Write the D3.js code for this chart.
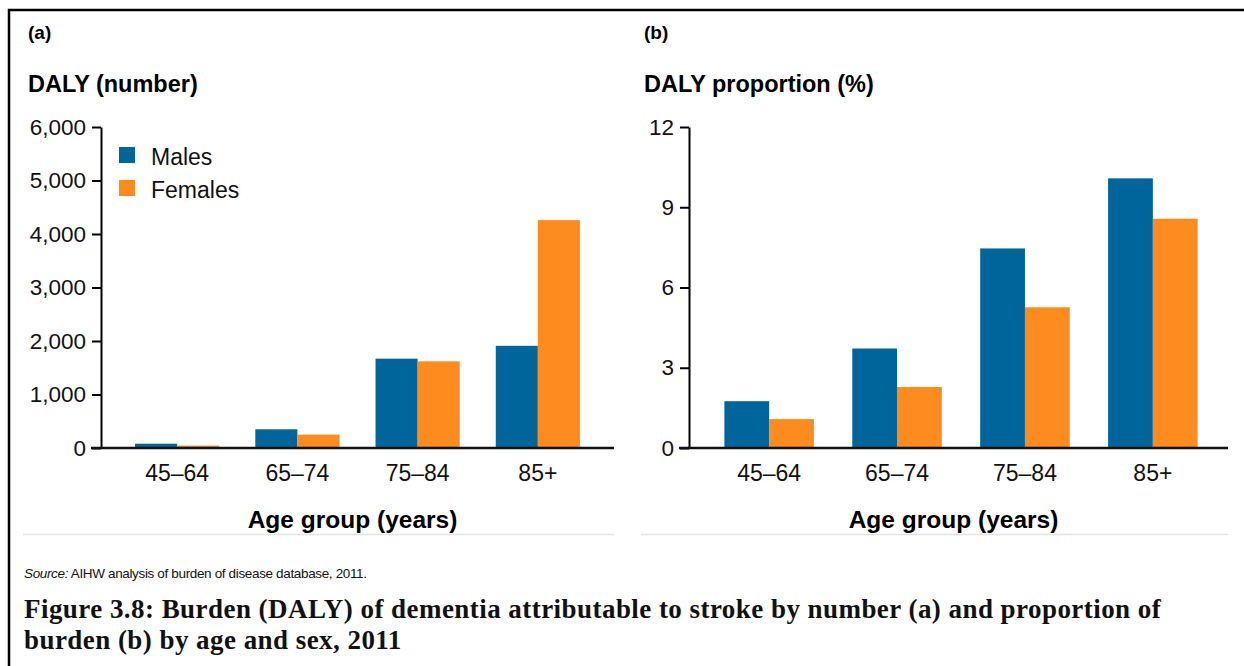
<!DOCTYPE html>
<html>
<head>
<meta charset="utf-8">
<script src="https://cdn.jsdelivr.net/npm/d3@7"></script>
<style>
    body { margin: 0; background: #fff; }
    svg { display: block; font-family: "Liberation Sans", Arial, sans-serif; }
</style>
</head>
<body>
<div id="chart"></div>
<script>
const ageGroups = ["45–64", "65–74", "75–84", "85+"];
const seriesNames = ["Males", "Females"];
const seriesColors = ["#00659b", "#fd8b1d"];

// panel (a): DALY number
const dalyMales = [80, 350, 1670, 1910];
const dalyFemales = [45, 250, 1620, 4260];
const dalyTicks = [0, 1000, 2000, 3000, 4000, 5000, 6000];

// panel (b): DALY proportion (%)
const propMales = [1.75, 3.72, 7.46, 10.08];
const propFemales = [1.08, 2.28, 5.26, 8.57];
const propTicks = [0, 3, 6, 9, 12];

const width = 1244, height = 666;

const svg = d3.select("#chart")
    .append("svg")
    .attr("width", width)
    .attr("height", height);

// outer frame (top + left only)
svg.append("path")
    .attr("d", "M9,666 V10 H1244")
    .attr("fill", "none")
    .attr("stroke", "#000")
    .attr("stroke-width", 2.5);

drawPanel({
    letter: "(a)",
    title: "DALY (number)",
    left: 28,
    axisX: 101,
    xRange: [99, 616],
    baseFrom: 91,
    baseTo: 614,
    ruleFrom: 23,
    ruleTo: 614,
    domain: [0, 6000],
    ticks: dalyTicks,
    format: d3.format(","),
    values: [dalyMales, dalyFemales],
    legend: true
});

drawPanel({
    letter: "(b)",
    title: "DALY proportion (%)",
    left: 644,
    axisX: 689,
    xRange: [686, 1236],
    baseFrom: 679,
    baseTo: 1228,
    ruleFrom: 641,
    ruleTo: 1228,
    domain: [0, 12],
    ticks: propTicks,
    format: d3.format("d"),
    values: [propMales, propFemales],
    legend: false
});

function drawPanel(p) {
    const g = svg.append("g");
    const top = 127, bottom = 448;

    const y = d3.scaleLinear().domain(p.domain).range([bottom, top]);
    const x0 = d3.scaleBand().domain(ageGroups).range(p.xRange).padding(0.3);
    const x1 = d3.scaleBand().domain(seriesNames).range([0, x0.bandwidth()]);

    g.append("text")
        .attr("x", p.left)
        .attr("y", 39)
        .attr("font-size", 19)
        .attr("font-weight", "bold")
        .text(p.letter);

    g.append("text")
        .attr("x", p.left)
        .attr("y", 92)
        .attr("font-size", 23.5)
        .attr("font-weight", "bold")
        .text(p.title);

    // bars
    const rows = ageGroups.map((a, i) => ({
        group: a,
        vals: seriesNames.map((s, j) => ({ name: s, color: seriesColors[j], v: p.values[j][i] }))
    }));

    g.selectAll("g.grp")
        .data(rows)
        .enter().append("g")
        .attr("class", "grp")
        .attr("transform", d => "translate(" + x0(d.group) + ",0)")
        .selectAll("rect")
        .data(d => d.vals)
        .enter().append("rect")
        .attr("x", d => x1(d.name))
        .attr("y", d => y(d.v))
        .attr("width", x1.bandwidth())
        .attr("height", d => bottom - y(d.v))
        .attr("fill", d => d.color);

    // y axis
    const yAxis = g.append("g")
        .attr("transform", "translate(" + p.axisX + ",0)")
        .call(d3.axisLeft(y).tickValues(p.ticks).tickFormat(p.format)
            .tickSize(9).tickSizeOuter(0).tickPadding(6));
    yAxis.select(".domain").attr("stroke-width", 2);
    yAxis.selectAll(".tick line").attr("stroke-width", 2);
    yAxis.selectAll(".tick text")
        .attr("font-size", 22.5)
        .attr("font-family", "Liberation Sans, Arial, sans-serif")
        .attr("fill", "#111");

    // baseline
    g.append("line")
        .attr("x1", p.baseFrom).attr("x2", p.baseTo)
        .attr("y1", bottom).attr("y2", bottom)
        .attr("stroke", "#111")
        .attr("stroke-width", 2.5);

    // category labels
    const xAxis = g.append("g")
        .attr("transform", "translate(0," + bottom + ")")
        .call(d3.axisBottom(x0).tickSize(0).tickPadding(17));
    xAxis.select(".domain").remove();
    xAxis.selectAll(".tick text")
        .attr("font-size", 23)
        .attr("font-family", "Liberation Sans, Arial, sans-serif")
        .attr("fill", "#111");

    g.append("text")
        .attr("x", (p.baseFrom + p.baseTo) / 2)
        .attr("y", 528)
        .attr("text-anchor", "middle")
        .attr("font-size", 24.5)
        .attr("font-weight", "bold")
        .text("Age group (years)");

    g.append("line")
        .attr("x1", p.ruleFrom).attr("x2", p.ruleTo)
        .attr("y1", 534.5).attr("y2", 534.5)
        .attr("stroke", "#e3e3e3")
        .attr("stroke-width", 1.5);

    if (p.legend) {
        const lg = g.selectAll("g.leg")
            .data(seriesNames)
            .enter().append("g")
            .attr("class", "leg")
            .attr("transform", (d, i) => "translate(119," + (147 + i * 33) + ")");
        lg.append("rect")
            .attr("width", 16).attr("height", 16)
            .attr("fill", (d, i) => seriesColors[i]);
        lg.append("text")
            .attr("x", 32).attr("y", 18)
            .attr("font-size", 23)
            .attr("fill", "#111")
            .text(d => d);
    }
}

// source note
const src = svg.append("text")
    .attr("x", 24)
    .attr("y", 578)
    .attr("font-size", 13.5)
    .attr("letter-spacing", -0.35)
    .attr("fill", "#111");
src.append("tspan").attr("font-style", "italic").text("Source:");
src.append("tspan").text(" AIHW analysis of burden of disease database, 2011.");

// caption
const caption = [
    "Figure 3.8: Burden (DALY) of dementia attributable to stroke by number (a) and proportion of",
    "burden (b) by age and sex, 2011"
];
svg.selectAll("text.cap")
    .data(caption)
    .enter().append("text")
    .attr("class", "cap")
    .attr("x", 24)
    .attr("y", (d, i) => 618 + i * 31)
    .attr("font-family", "Liberation Serif, DejaVu Serif, serif")
    .attr("font-weight", "bold")
    .attr("font-size", 27)
    .attr("letter-spacing", 0.45)
    .attr("fill", "#111")
    .text(d => d);
</script>
</body>
</html>
